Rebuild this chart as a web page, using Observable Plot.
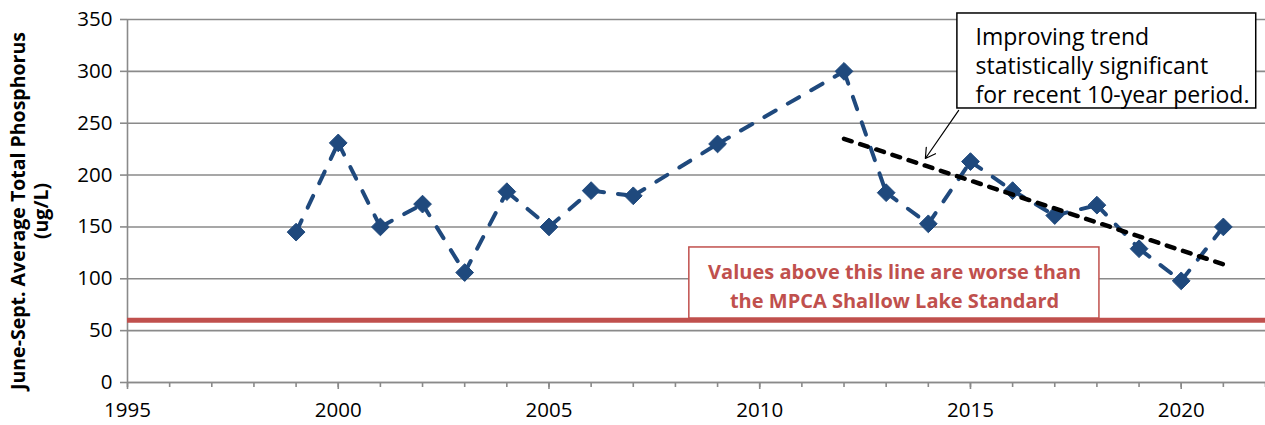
<!DOCTYPE html>
<html><head><meta charset="utf-8">
<script src="https://cdn.jsdelivr.net/npm/d3@7"></script>
<script src="https://cdn.jsdelivr.net/npm/@observablehq/plot@0.6"></script>
<style>body{margin:0;background:#fff}</style>
</head><body><div id="chart"></div>
<script>
const years = [1999,2000,2001,2002,2003,2004,2005,2006,2007,2009,2012,2013,2014,2015,2016,2017,2018,2019,2020,2021];
const phosphorus = [145,231,150,172,106,184,150,185,180,230,300,183,153,213,185,161,171,129,98,150];
const trendYears = [2012, 2021];
const trendValues = [235, 114];
const standardValue = [60];
const yTicks = [0,50,100,150,200,250,300,350];
const xTicks = [1995,2000,2005,2010,2015,2020];
const minorTicks = d3.range(1995, 2023);
const yTitle = ["June-Sept. Average Total Phosphorus", "(ug/L)"];
const calloutText = "Improving trend\nstatistically significant\nfor recent 10-year period.";
const standardText = "Values above this line are worse than\nthe MPCA Shallow Lake Standard";

const data = years.map((y, i) => ({year: y, tp: phosphorus[i]}));
const segments = d3.pairs(data).map(([a, b]) => ({x1: a.year, y1: a.tp, x2: b.year, y2: b.tp}));
const trend = trendYears.map((y, i) => ({year: y, tp: trendValues[i]}));

const font = "'Open Sans', sans-serif";
const grid = "#8a8a8a";

const chart = Plot.plot({
  width: 1265, height: 425,
  marginLeft: 127, marginRight: 0, marginTop: 19, marginBottom: 43,
  style: {fontFamily: font, background: "#fff", overflow: "visible"},
  x: {domain: [1995, 2022]},
  y: {domain: [0, 350]},
  marks: [
    Plot.gridY(yTicks, {stroke: grid, strokeOpacity: 1, strokeWidth: 1.6}),
    Plot.axisY(yTicks, {tickSize: 7, tickPadding: 8, fontSize: 20.5, fill: "#000", stroke: grid, strokeWidth: 1.6, strokeOpacity: 1, label: null}),
    Plot.axisX(minorTicks, {tickSize: 5, text: null, stroke: grid, strokeWidth: 1.6, strokeOpacity: 1, label: null}),
    Plot.axisX(xTicks, {tickSize: 7, tickPadding: 13, fontSize: 20.5, fill: "#000", stroke: grid, strokeWidth: 1.6, strokeOpacity: 1, tickFormat: d => String(d), label: null}),
    Plot.ruleY([0], {stroke: grid, strokeWidth: 1.6}),
    Plot.ruleX([1995], {stroke: grid, strokeWidth: 1.6}),
    Plot.ruleY(standardValue, {stroke: "#c0504d", strokeWidth: 5}),
    Plot.rect([standardText], {x1: 2008.33, x2: 2018.06, y1: 61.7, y2: 130.2, fill: "#fff", stroke: "#c0504d", strokeWidth: 1.5}),
    Plot.text([standardText], {x: 2013.2, y: 95, text: d => d, fill: "#c0504d", fontWeight: "bold", fontSize: 20, lineHeight: 1.45, textAnchor: "middle"}),
    Plot.link(segments, {x1: "x1", y1: "y1", x2: "x2", y2: "y2", stroke: "#1f497d", strokeWidth: 4, strokeDasharray: "13,14", strokeLinecap: "round"}),
    Plot.dot(data, {x: "year", y: "tp", symbol: "diamond2", r: 8, fill: "#1f497d", stroke: "#1f497d", strokeWidth: 1}),
    Plot.line(trend, {x: "year", y: "tp", stroke: "#000", strokeWidth: 4.5, strokeDasharray: "8,9", strokeLinecap: "round"}),
    Plot.rect([calloutText], {x1: 2014.69, x2: 2021.78, y1: 264.2, y2: 355.8, fill: "#fff", stroke: "#000", strokeWidth: 1.5}),
    Plot.text([calloutText], {x: 2015.12, y: 306.5, text: d => d, fill: "#000", fontSize: 23, lineHeight: 1.27, textAnchor: "start"}),
    Plot.arrow([calloutText], {x1: 2014.72, y1: 262.3, x2: 2013.93, y2: 216, stroke: "#000", strokeWidth: 1.2, headLength: 14}),
    Plot.text([yTitle[0]], {frameAnchor: "left", dx: -109, dy: 10, rotate: -90, textAnchor: "middle", text: d => d, fontWeight: "bold", fontSize: 19.5, fill: "#000"}),
    Plot.text([yTitle[1]], {frameAnchor: "left", dx: -86, dy: 10, rotate: -90, textAnchor: "middle", text: d => d, fontWeight: "bold", fontSize: 19.5, fill: "#000"})
  ]
});
document.getElementById("chart").appendChild(chart);
</script>
</body></html>
